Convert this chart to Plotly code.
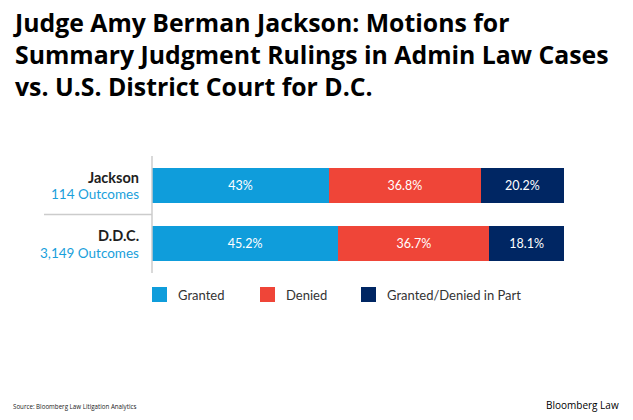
import plotly.graph_objects as go

courts = ["Jackson", "D.D.C."]
outcomes = ["114 Outcomes", "3,149 Outcomes"]
series = ["Granted", "Denied", "Granted/Denied in Part"]
granted = [43.0, 45.2]
denied = [36.8, 36.7]
in_part = [20.2, 18.1]
bar_text = [["43%", "45.2%"], ["36.8%", "36.7%"], ["20.2%", "18.1%"]]
colors = ["#0f9ddb", "#ef4538", "#002663"]

W, H = 633, 420
L, R, T, B = 152, 69, 156, 147
pw = W - L - R
ph = H - T - B


# pixel position (from top-left) -> paper coords
def px(x):
    return (x - L) / pw


def py(y):
    return (H - B - y) / ph


fig = go.Figure()
for name, vals, txt, col in zip(series, [granted, denied, in_part], bar_text, colors):
    fig.add_trace(go.Bar(
        y=courts, x=vals, name=name, orientation="h",
        marker=dict(color=col, line=dict(width=0)),
        text=txt, textposition="inside", insidetextanchor="middle",
        textfont=dict(color="white", size=12.5, family="Lato"),
        width=0.6, hoverinfo="skip", showlegend=False,
    ))

# row labels
for c, o in zip(courts, outcomes):
    fig.add_annotation(x=px(141), xref="paper", y=c, yref="y", yshift=8,
                       text=f"<b>{c}</b>", showarrow=False, xanchor="right", yanchor="middle",
                       font=dict(size=14.5, color="#1e1e1e", family="Lato"))
    fig.add_annotation(x=px(141), xref="paper", y=c, yref="y", yshift=-9,
                       text=o, showarrow=False, xanchor="right", yanchor="middle",
                       font=dict(size=13.5, color="#1a9fdb", family="Lato"))

# axis line and separator
fig.add_shape(type="line", xref="paper", yref="paper", x0=0, x1=0, y0=0, y1=1,
              line=dict(color="#cccccc", width=1.5))
fig.add_shape(type="line", xref="paper", yref="y", x0=px(44), x1=0,
              y0=0.5, y1=0.5, line=dict(color="#cccccc", width=1.5))

# legend
for name, col, lx in zip(series, colors, [152, 260, 361]):
    fig.add_shape(type="rect", xref="paper", yref="paper",
                  x0=px(lx), x1=px(lx + 15), y0=py(302), y1=py(287),
                  fillcolor=col, line=dict(width=0))
    fig.add_annotation(x=px(lx + 24), xref="paper", y=py(295), yref="paper",
                       text=name, showarrow=False, xanchor="left", yanchor="middle",
                       font=dict(size=13, color="#333333", family="Lato"))

# title
fig.add_annotation(x=px(11), y=py(3), xref="paper", yref="paper",
                   text="<b>Judge Amy Berman Jackson: Motions for<br>"
                        "Summary Judgment Rulings in Admin Law Cases<br>"
                        "vs. U.S. District Court for D.C.</b>",
                   showarrow=False, xanchor="left", yanchor="top", align="left",
                   font=dict(size=24.8, color="black", family="Open Sans"))

# footer
fig.add_annotation(x=px(11), y=py(406), xref="paper", yref="paper",
                   text="Source: Bloomberg Law Litigation Analytics", showarrow=False,
                   xanchor="left", yanchor="middle",
                   font=dict(size=6.2, color="#222222", family="Open Sans"))
fig.add_annotation(x=px(621), y=py(405), xref="paper", yref="paper",
                   text="Bloomberg Law", showarrow=False,
                   xanchor="right", yanchor="middle",
                   font=dict(size=10, color="black", family="Open Sans"))

fig.update_layout(
    barmode="stack", width=W, height=H,
    margin=dict(l=L, r=R, t=T, b=B),
    paper_bgcolor="white", plot_bgcolor="white",
    xaxis=dict(range=[0, 100], visible=False),
    yaxis=dict(autorange="reversed", showticklabels=False, showgrid=False,
               zeroline=False, showline=False,
               categoryorder="array", categoryarray=courts),
    uniformtext=dict(minsize=8, mode="show"),
)

fig.write_html("out.html", config={"displayModeBar": False},
               post_script="document.body.style.margin='0';")
